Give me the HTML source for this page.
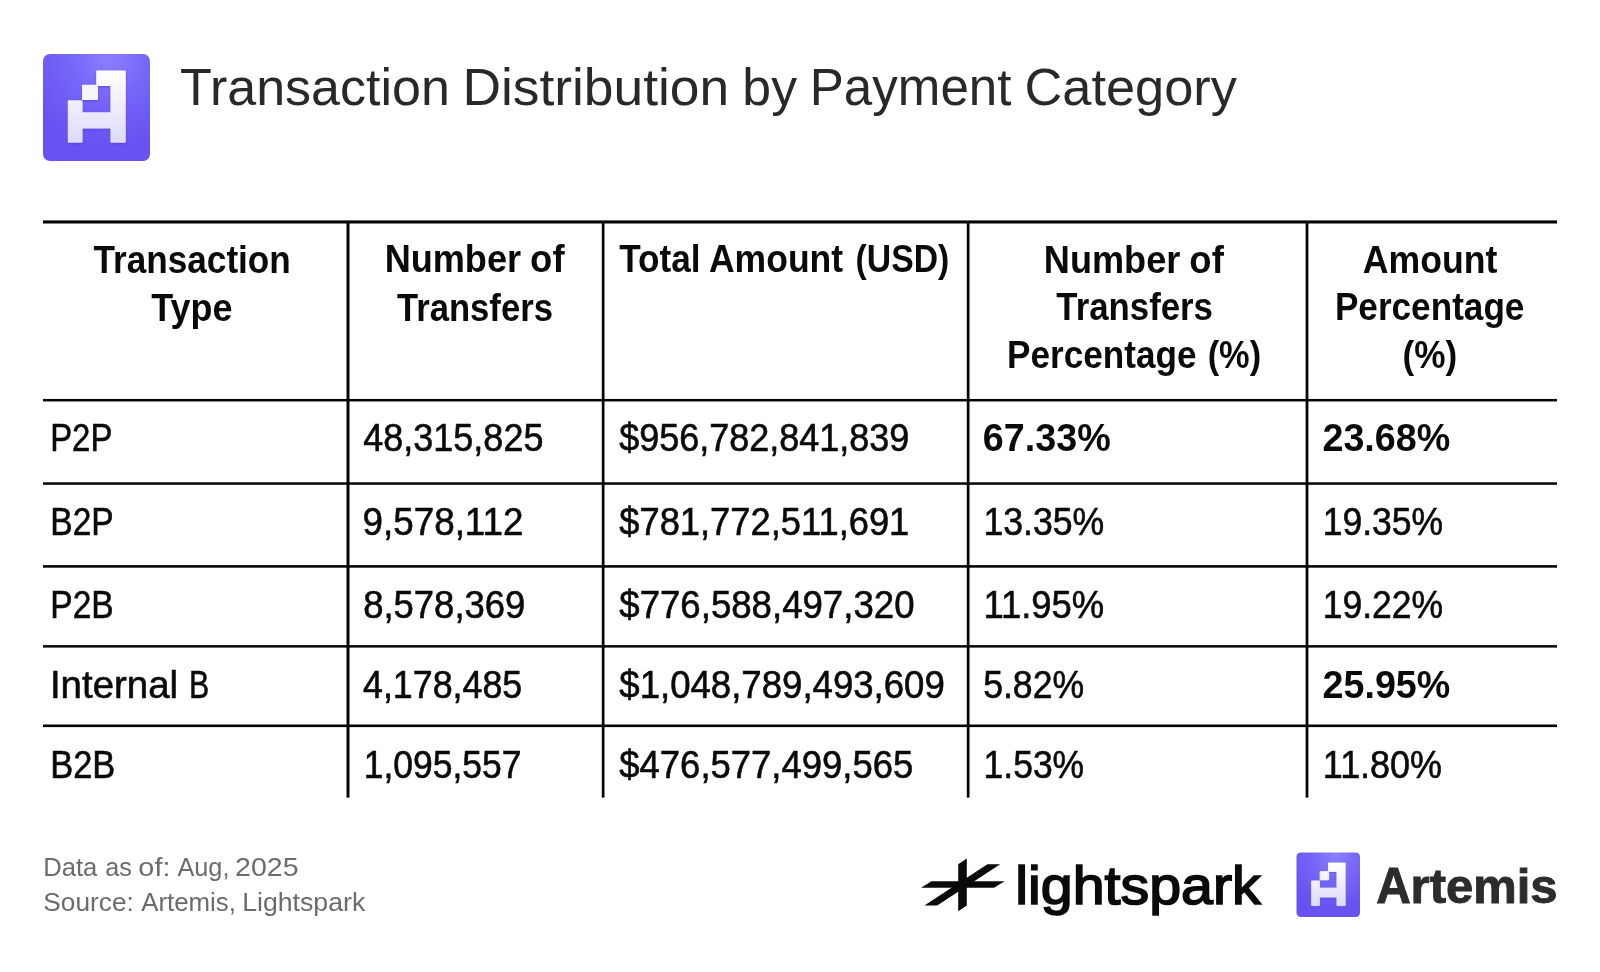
<!DOCTYPE html>
<html lang="en">
<head>
<meta charset="utf-8">
<title>Transaction Distribution by Payment Category</title>
<style>
html,body{margin:0;padding:0;background:#ffffff;}
body{width:1600px;height:972px;overflow:hidden;font-family:"Liberation Sans",sans-serif;}
svg{display:block;position:absolute;left:0;top:0;will-change:transform;}
svg text{font-family:"Liberation Sans",sans-serif;white-space:pre;}
</style>
</head>
<body>
<svg width="1600" height="972" viewBox="0 0 1600 972">
<defs>
<radialGradient id="pg" cx="0.62" cy="0.04" r="0.8">
<stop offset="0" stop-color="#8c7fff"/>
<stop offset="0.45" stop-color="#7667f8"/>
<stop offset="1" stop-color="#6753f2"/>
</radialGradient>
<linearGradient id="ag" x1="0" y1="0" x2="0" y2="1">
<stop offset="0" stop-color="#ffffff"/>
<stop offset="1" stop-color="#dedafa"/>
</linearGradient>
<filter id="ds" x="-10%" y="-10%" width="120%" height="125%">
<feDropShadow dx="0" dy="1.2" stdDeviation="0.9" flood-color="#3f2fc4" flood-opacity="0.45"/>
</filter>
<g id="artemis">
<rect x="0" y="0" width="107" height="107" rx="7" ry="7" fill="url(#pg)"/>
<g>
<path filter="url(#ds)" fill="url(#ag)" stroke="url(#ag)" stroke-width="1.6" stroke-linejoin="round" d="M54 17.4 H82 V88 H68.2 V73.8 H38.8 V88 H25.6 V47 H38.8 V59 H68.2 V31.2 H54 Z"/>
<rect filter="url(#ds)" x="39.8" y="31.6" width="14.4" height="13.6" fill="#f6f5ff" stroke="#f6f5ff" stroke-width="1.6" stroke-linejoin="round"/>
</g>
</g>

</defs>
<rect x="0" y="0" width="1600" height="972" fill="#ffffff"/>
<!-- big Artemis logo -->
<use href="#artemis" transform="translate(43 54)"/>
<!-- small Artemis logo -->
<use href="#artemis" transform="translate(1296.5 852.6) scale(0.5935 0.602)"/>
<!-- table rules -->
<rect x="43" y="220.4" width="1514" height="3.1" fill="#050505"/>
<rect x="43" y="398.95" width="1514" height="2.5" fill="#050505"/>
<rect x="43" y="482.3" width="1514" height="2.5" fill="#050505"/>
<rect x="43" y="565.1" width="1514" height="2.6" fill="#050505"/>
<rect x="43" y="645.1" width="1514" height="2.5" fill="#050505"/>
<rect x="43" y="724.5" width="1514" height="2.6" fill="#050505"/>
<rect x="346.5" y="221" width="3.0" height="576.6" fill="#050505"/>
<rect x="601.8" y="221" width="2.7" height="576.6" fill="#050505"/>
<rect x="966.8" y="221" width="2.7" height="576.6" fill="#050505"/>
<rect x="1305.6" y="221" width="2.8" height="576.6" fill="#050505"/>
<!-- lightspark mark -->
<g fill="#0a0a0a">
<path d="M931.4 881.2 H1004.7 L994 887.8 H921.1 Z"/>
<path d="M966.8 858.6 L958.2 864.3 V911.3 L966.8 905.5 Z"/>
<path d="M987.4 864.3 H1000.2 L937.2 905.5 H924.4 Z"/>
</g>

<!-- text -->
<text transform="translate(180.09 105.20) scale(0.9908 1)" font-size="52.5" fill="#28292b">Transaction</text>
<text transform="translate(462.43 105.20) scale(1.0160 1)" font-size="52.5" fill="#28292b">Distribution</text>
<text transform="translate(742.37 105.20) scale(0.9853 1)" font-size="52.5" fill="#28292b">by</text>
<text transform="translate(809.76 105.20) scale(0.9739 1)" font-size="52.5" fill="#28292b">Payment</text>
<text transform="translate(1024.55 105.20) scale(0.9973 1)" font-size="52.5" fill="#28292b">Category</text>
<text transform="translate(93.50 272.50) scale(0.9064 1)" font-size="38.8" font-weight="bold" fill="#0a0a0a">Transaction</text>
<text transform="translate(151.20 320.50) scale(0.9260 1)" font-size="38.8" font-weight="bold" fill="#0a0a0a">Type</text>
<text transform="translate(384.64 272.40) scale(0.9309 1)" font-size="38.8" font-weight="bold" fill="#0a0a0a">Number</text>
<text transform="translate(530.11 272.40) scale(0.9421 1)" font-size="38.8" font-weight="bold" fill="#0a0a0a">of</text>
<text transform="translate(396.90 320.50) scale(0.8936 1)" font-size="38.8" font-weight="bold" fill="#0a0a0a">Transfers</text>
<text transform="translate(619.20 272.20) scale(0.9073 1)" font-size="38.8" font-weight="bold" fill="#0a0a0a">Total</text>
<text transform="translate(708.94 272.20) scale(0.9160 1)" font-size="38.8" font-weight="bold" fill="#0a0a0a">Amount</text>
<text transform="translate(855.62 272.20) scale(0.8686 1)" font-size="38.8" font-weight="bold" fill="#0a0a0a">(USD)</text>
<text transform="translate(1043.84 272.50) scale(0.9309 1)" font-size="38.8" font-weight="bold" fill="#0a0a0a">Number</text>
<text transform="translate(1189.36 272.50) scale(0.9407 1)" font-size="38.8" font-weight="bold" fill="#0a0a0a">of</text>
<text transform="translate(1056.30 320.40) scale(0.8971 1)" font-size="38.8" font-weight="bold" fill="#0a0a0a">Transfers</text>
<text transform="translate(1007.10 367.50) scale(0.9060 1)" font-size="38.8" font-weight="bold" fill="#0a0a0a">Percentage</text>
<text transform="translate(1207.64 367.50) scale(0.8867 1)" font-size="38.8" font-weight="bold" fill="#0a0a0a">(%)</text>
<text transform="translate(1362.84 272.50) scale(0.9187 1)" font-size="38.8" font-weight="bold" fill="#0a0a0a">Amount</text>
<text transform="translate(1334.90 320.40) scale(0.9062 1)" font-size="38.8" font-weight="bold" fill="#0a0a0a">Percentage</text>
<text transform="translate(1402.45 367.80) scale(0.9069 1)" font-size="38.8" font-weight="bold" fill="#0a0a0a">(%)</text>
<text transform="translate(50.18 450.60) scale(0.8480 1)" font-size="38.8" fill="#0a0a0a" stroke="#0a0a0a" stroke-width="0.6">P2P</text>
<text transform="translate(50.29 534.70) scale(0.8639 1)" font-size="38.8" fill="#0a0a0a" stroke="#0a0a0a" stroke-width="0.6">B2P</text>
<text transform="translate(50.29 618.10) scale(0.8639 1)" font-size="38.8" fill="#0a0a0a" stroke="#0a0a0a" stroke-width="0.6">P2B</text>
<text transform="translate(49.95 698.10) scale(0.9897 1)" font-size="38.8" fill="#0a0a0a" stroke="#0a0a0a" stroke-width="0.6">Internal</text>
<text transform="translate(50.23 777.60) scale(0.8870 1)" font-size="38.8" fill="#0a0a0a" stroke="#0a0a0a" stroke-width="0.6">B2B</text>
<text transform="translate(363.32 450.60) scale(0.9278 1)" font-size="38.8" fill="#0a0a0a" stroke="#0a0a0a" stroke-width="0.6">48,315,825</text>
<text transform="translate(362.56 534.70) scale(0.9488 1)" font-size="38.8" fill="#0a0a0a" stroke="#0a0a0a" stroke-width="0.6">9,578,112</text>
<text transform="translate(363.14 618.10) scale(0.9400 1)" font-size="38.8" fill="#0a0a0a" stroke="#0a0a0a" stroke-width="0.6">8,578,369</text>
<text transform="translate(363.02 698.10) scale(0.9226 1)" font-size="38.8" fill="#0a0a0a" stroke="#0a0a0a" stroke-width="0.6">4,178,485</text>
<text transform="translate(363.66 777.60) scale(0.9142 1)" font-size="38.8" fill="#0a0a0a" stroke="#0a0a0a" stroke-width="0.6">1,095,557</text>
<text transform="translate(619.28 450.60) scale(0.9272 1)" font-size="38.8" fill="#0a0a0a" stroke="#0a0a0a" stroke-width="0.6">$956,782,841,839</text>
<text transform="translate(619.28 534.70) scale(0.9359 1)" font-size="38.8" fill="#0a0a0a" stroke="#0a0a0a" stroke-width="0.6">$781,772,511,691</text>
<text transform="translate(619.28 618.10) scale(0.9437 1)" font-size="38.8" fill="#0a0a0a" stroke="#0a0a0a" stroke-width="0.6">$776,588,497,320</text>
<text transform="translate(619.28 698.10) scale(0.9432 1)" font-size="38.8" fill="#0a0a0a" stroke="#0a0a0a" stroke-width="0.6">$1,048,789,493,609</text>
<text transform="translate(619.28 777.60) scale(0.9401 1)" font-size="38.8" fill="#0a0a0a" stroke="#0a0a0a" stroke-width="0.6">$476,577,499,565</text>
<text transform="translate(982.82 450.60) scale(0.9728 1)" font-size="38.8" font-weight="bold" fill="#0a0a0a">67.33%</text>
<text transform="translate(983.45 534.70) scale(0.9183 1)" font-size="38.8" fill="#0a0a0a" stroke="#0a0a0a" stroke-width="0.6">13.35%</text>
<text transform="translate(983.40 618.10) scale(0.9393 1)" font-size="38.8" fill="#0a0a0a" stroke="#0a0a0a" stroke-width="0.6">11.95%</text>
<text transform="translate(983.16 698.10) scale(0.9183 1)" font-size="38.8" fill="#0a0a0a" stroke="#0a0a0a" stroke-width="0.6">5.82%</text>
<text transform="translate(983.56 777.60) scale(0.9147 1)" font-size="38.8" fill="#0a0a0a" stroke="#0a0a0a" stroke-width="0.6">1.53%</text>
<text transform="translate(1322.42 450.60) scale(0.9720 1)" font-size="38.8" font-weight="bold" fill="#0a0a0a">23.68%</text>
<text transform="translate(1322.76 534.70) scale(0.9151 1)" font-size="38.8" fill="#0a0a0a" stroke="#0a0a0a" stroke-width="0.6">19.35%</text>
<text transform="translate(1322.76 618.10) scale(0.9151 1)" font-size="38.8" fill="#0a0a0a" stroke="#0a0a0a" stroke-width="0.6">19.22%</text>
<text transform="translate(1322.57 698.10) scale(0.9709 1)" font-size="38.8" font-weight="bold" fill="#0a0a0a">25.95%</text>
<text transform="translate(1322.83 777.60) scale(0.9262 1)" font-size="38.8" fill="#0a0a0a" stroke="#0a0a0a" stroke-width="0.6">11.80%</text>
<text transform="translate(189.07 698.10) scale(0.7791 1)" font-size="38.8" fill="#0a0a0a" stroke="#0a0a0a" stroke-width="0.6">B</text>
<text transform="translate(43.17 875.50) scale(1.0172 1)" font-size="25.2" fill="#6c6c6c">Data</text>
<text transform="translate(105.25 875.50) scale(1.0014 1)" font-size="25.2" fill="#6c6c6c">as</text>
<text transform="translate(138.36 875.50) scale(1.1450 1)" font-size="25.2" fill="#6c6c6c">of:</text>
<text transform="translate(177.40 875.50) scale(1.0053 1)" font-size="25.2" fill="#6c6c6c">Aug,</text>
<text transform="translate(235.04 875.50) scale(1.1329 1)" font-size="25.2" fill="#6c6c6c">2025</text>
<text transform="translate(43.35 911.20) scale(1.0414 1)" font-size="25.2" fill="#6c6c6c">Source:</text>
<text transform="translate(141.20 911.20) scale(1.0254 1)" font-size="25.2" fill="#6c6c6c">Artemis,</text>
<text transform="translate(242.18 911.20) scale(1.0589 1)" font-size="25.2" fill="#6c6c6c">Lightspark</text>
<text transform="translate(1015.31 904.20) scale(1.0540 1)" font-size="54.4" fill="#0a0a0a" stroke="#0a0a0a" stroke-width="1.7">lightspark</text>
<text transform="translate(1376.18 902.50) scale(0.9435 1)" font-size="50.8" font-weight="bold" fill="#2b2c2e" stroke="#2b2c2e" stroke-width="0.9">A</text>
<text transform="translate(1410.60 902.50) scale(1.0198 1)" font-size="48.0" font-weight="bold" fill="#2b2c2e" stroke="#2b2c2e" stroke-width="0.9">rtemis</text>
</svg>
</body>
</html>
